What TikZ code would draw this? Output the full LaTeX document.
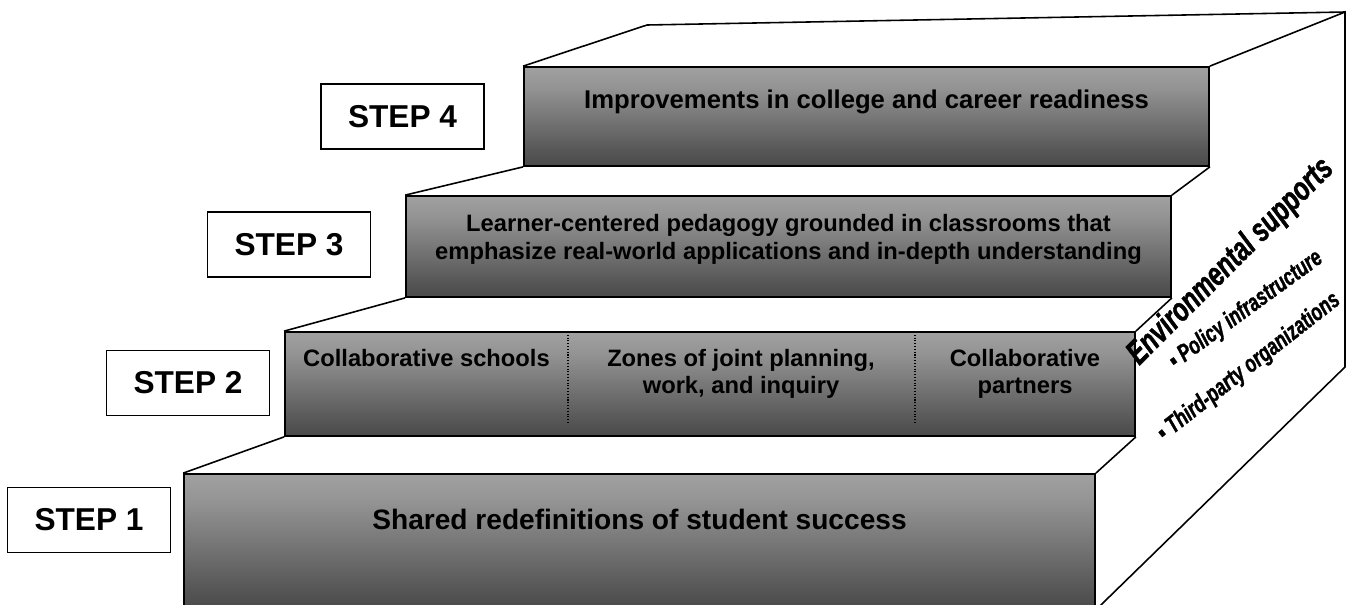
\documentclass[tikz,border=0pt]{standalone}
\usepackage{fontspec}
\setmainfont{Liberation Sans}
\newfontfamily\narrowfont[FakeStretch=0.72, FakeBold=1.2]{Liberation Sans}
\usetikzlibrary{positioning, calc}

% light at the top of each riser, dark at the foot
\pgfdeclareverticalshading{stepshade}{100bp}{color(0bp)=(black!84); color(30bp)=(black!68); color(65bp)=(black!42); color(100bp)=(black!25)}

\begin{document}
\begin{tikzpicture}[
    stepbox/.style={rectangle, draw, line width=1pt, shading=stepshade, inner sep=0pt},
    steplabel/.style={rectangle, draw, line width=1pt, fill=white, minimum width=3.26cm, minimum height=1.3cm, font=\bfseries\fontsize{18}{21}\selectfont},
    bigtext/.style={font=\bfseries\fontsize{16}{19}\selectfont, align=center, inner sep=0pt},
    midtext/.style={font=\bfseries\fontsize{14.6}{17.5}\selectfont, align=center, inner sep=0pt},
    smalltext/.style={font=\bfseries\fontsize{13.5}{15.8}\selectfont, align=center, inner sep=0pt, anchor=north},
    sidehead/.style={font=\narrowfont\bfseries\itshape\fontsize{19}{22}\selectfont, inner sep=0pt, rotate=45},
    sideitem/.style={font=\narrowfont\bfseries\itshape\fontsize{14}{16}\selectfont, inner sep=0pt},
    edge/.style={line width=0.9pt},
    divider/.style={densely dotted, line width=0.6pt}
]
\useasboundingbox (0,0) rectangle (26.96,12.08);

% risers
\node[stepbox, minimum width=18.22cm, minimum height=2.70cm] (s1) at (12.79,1.25) {};
\node[stepbox, minimum width=17.00cm, minimum height=2.08cm] (s2) at (14.20,4.40) {};
\node[stepbox, minimum width=15.30cm, minimum height=2.02cm] (s3) at (15.77,7.15) {};
\node[stepbox, minimum width=13.70cm, minimum height=1.98cm] (s4) at (17.33,9.75) {};

% back of the top step and the side wall
\coordinate (backleft) at (12.94,11.58);
\coordinate (backright) at (26.90,11.84);
\coordinate (sidelow) at (26.90,4.74);

% treads
\draw[edge] (s1.north west) -- (s2.south west);
\draw[edge] (s2.north west) -- (s3.south west);
\draw[edge] (s3.north west) -- (s4.south west);
\draw[edge] (s4.north west) -- (backleft) -- (backright);
\draw[edge] (s1.north east) -- (s2.south east);
\draw[edge] (s2.north east) -- (s3.south east);
\draw[edge] (s3.north east) -- (s4.south east);
\draw[edge] (s4.north east) -- (backright) -- (sidelow) -- (s1.south east);

% step labels
\node[steplabel] (l4) at (8.05,9.75) {STEP 4};
\node[steplabel] (l3) at (5.78,7.19) {STEP 3};
\node[steplabel] (l2) at (3.76,4.42) {STEP 2};
\node[steplabel] (l1) at (1.78,1.68) {STEP 1};

% riser texts
\node[midtext] (t4) at ($(s4.north)+(0,-0.72)$) {Improvements in college and career readiness};
\node[smalltext] (t3) at ($(s3.north)+(0,-0.38)$) {Learner-centered pedagogy grounded in classrooms that\\emphasize real-world applications and in-depth understanding};
\node[bigtext] (t1) at ($(s1.north)+(0,-0.92)$) {Shared redefinitions of student success};

\node[smalltext] (c1) at (8.53,5.11) {Collaborative schools};
\node[smalltext] (c2) at (14.82,5.11) {Zones of joint planning,\\work, and inquiry};
\node[smalltext] (c3) at (20.50,5.11) {Collaborative\\partners};
\draw[divider] (11.36,5.44) -- (11.36,3.62);
\draw[divider] (18.30,5.44) -- (18.30,3.62);

% side wall text
\node[sidehead] (env) at (24.62,6.84) {Environmental supports};
\node[sideitem, rotate=36] (policy) at (24.92,5.88) {▪ Policy infrastructure};
\node[sideitem, rotate=38] (third) at (24.98,4.74) {▪ Third-party organizations};
\end{tikzpicture}
\end{document}
